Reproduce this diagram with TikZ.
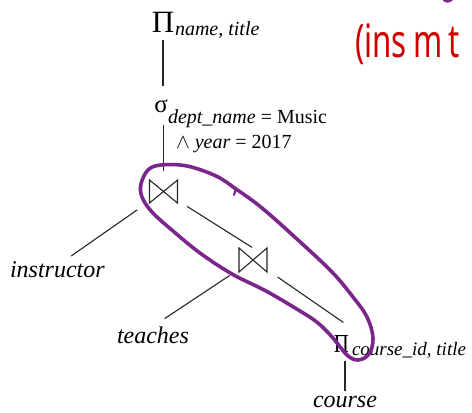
\documentclass[tikz,border=0pt]{standalone}
\usepackage{fontspec}
\setmainfont{Liberation Serif}
\newfontfamily\handfont{Noto Sans}
\usetikzlibrary{calc}
\definecolor{hlpurple}{RGB}{122,38,138}
\definecolor{inkred}{RGB}{208,0,0}
\tikzset{
  lbl/.style={inner sep=0pt, outer sep=0pt, anchor=base west, font=\fontsize{24}{24}\selectfont\itshape},
  subtext/.style={inner sep=0pt, outer sep=0pt, anchor=base west, font=\fontsize{20}{20}\selectfont\itshape},
  opsym/.style={inner sep=0pt, outer sep=0pt, anchor=base},
  joinbox/.style={inner sep=0pt, outer sep=0pt, minimum width=28pt, minimum height=23pt},
  edge/.style={draw=black!85, line width=1.1pt},
  bowline/.style={draw=black!85, line width=1.1pt, line join=miter},
  loopline/.style={draw=hlpurple, line width=3.6pt, line cap=round, line join=round},
}
\begin{document}
\begin{tikzpicture}[x=1pt,y=-1pt]
\useasboundingbox (0,0) rectangle (472,413);
\fill[white] (0,0) rectangle (472,413);

% operator symbols and labels
\node[opsym, font=\fontsize{31}{31}\selectfont] (pi1) at (163,32) {Π};
\node[subtext] (pi1sub) at (175,35) {name, title};
\node[opsym, font=\fontsize{25}{25}\selectfont] (sig) at (161,112) {σ};
\node[subtext] (sigsub) at (168,123) {dept\_name {\upshape = Music}};
\node[subtext] (sigsub2) at (176,148) {$\wedge$ year {\upshape = 2017}};
\coordinate (sigtail) at (163.5,125);
\node[joinbox] (j1) at (163.5,191.5) {};
\node[joinbox, minimum height=24pt] (j2) at (253,260) {};
\node[lbl] (instr) at (10,277) {instructor};
\node[lbl] (teach) at (117,343) {teaches};
\node[opsym, font=\fontsize{26}{26}\selectfont, xscale=0.8] (pi2) at (341.5,352) {Π};
\node[subtext, font=\fontsize{19}{19}\selectfont\itshape] (pi2sub) at (352,355) {course\_id, title};
\node[lbl] (course) at (313,407) {course};

% bowtie symbols
\draw[bowline] (j1.north west) -- (j1.south west) -- (j1.north east) -- (j1.south east) -- cycle;
\draw[bowline] (j2.north west) -- (j2.south west) -- (j2.north east) -- (j2.south east) -- cycle;

% connectors
\draw[edge] ([yshift=-8pt]pi1.south) -- ([yshift=-54pt]pi1.south);
\draw[edge, shorten >=9pt] (sigtail) -- (j1.north);
\draw[edge, shorten <=32pt, shorten >=9pt] (j1.center) -- ([xshift=6.5pt]instr.north);
\draw[edge, shorten <=28pt, shorten >=1pt] (j1.center) -- (j2.north);
\draw[edge, shorten <=28pt, shorten >=14pt] (j2.center) -- (teach.north);
\draw[edge, shorten <=30pt, shorten >=22pt] (j2.center) -- ([xshift=20pt]pi2.north);
\draw[edge] ([yshift=16pt]course.base) -- ([yshift=46pt]course.base);

% purple highlight loop
\draw[loopline] plot[smooth cycle, tension=0.6] coordinates {
  (141,184) (148,170) (161,165) (187,166) (216,176) (236,189) (262,208)
  (298,240) (332,272) (353,297) (367,317) (373,338) (369,354) (358,360)
  (347,355) (333,338) (318,323) (300,311) (266,291) (232,274) (200,253)
  (173,231) (152,212) (142,197)};
\draw[loopline, line width=2.2pt] (236,189) -- (234,195);
\draw[loopline, line width=3pt] (443,-2) .. controls (445,2) and (449,2) .. (452,-1);

% red handwritten note
\node[inner sep=0pt, anchor=base west, text=inkred, font=\handfont\bfseries\fontsize{46}{46}\selectfont, xscale=0.68] (note) at (355,57) {(ins\hspace{10pt}m\hspace{8pt}t};
\end{tikzpicture}
\end{document}
